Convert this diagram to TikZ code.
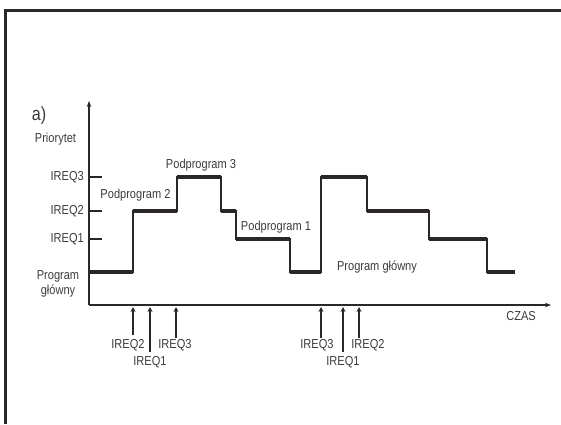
\documentclass[tikz,border=0pt]{standalone}
\usepackage{fontspec}
\setmainfont{Liberation Sans}
\newfontfamily\lblfont[FakeStretch=0.85]{Liberation Sans}
\definecolor{LineDark}{HTML}{2B2727}
\definecolor{TextGray}{HTML}{3E3A3A}
\usetikzlibrary{positioning, arrows.meta}

\begin{document}
\begin{tikzpicture}[x=1pt, y=-1pt,
  lbl/.style={font=\lblfont\fontsize{13}{15}\selectfont, text=TextGray, inner sep=0pt},
  ax/.style={draw=LineDark, line width=1.2pt, -{Stealth[length=6pt, width=4.5pt]}},
  req/.style={draw=LineDark, line width=1.5pt, -{Stealth[length=5pt, width=5pt]}},
  lvl/.style={draw=LineDark, line width=3.6pt},
  edgeln/.style={draw=LineDark, line width=1.7pt},
  tickln/.style={draw=LineDark, line width=1.5pt},
  frame/.style={draw=LineDark, line width=2.5pt},
]
  \useasboundingbox (0,0) rectangle (561,424);

  % frame (top and left edge only)
  \draw[frame] (5.5,424) -- (5.5,10.5) -- (561,10.5);

  % axes
  \coordinate (orig) at (89,305);
  \coordinate (ytop) at (89,101);
  \coordinate (xend) at (551,305);
  \draw[ax] (orig) -- (ytop);
  \draw[ax] (orig) -- (xend);
  \node[lbl, font=\lblfont\fontsize{19}{20}\selectfont] (apart) at (39,116) {a)};
  \node[lbl] (prio) at (55.5,139) {Priorytet};
  \node[lbl] (czas) at (521,316) {CZAS};

  % priority levels
  \foreach \nm/\yy in {3/177, 2/211, 1/239} {
    \node[lbl, anchor=east] (lv\nm) at (84,\yy) {IREQ\nm};
    \draw[tickln] (89,\yy) coordinate (tk\nm) -- ++(13,0);
  }
  \node[lbl, align=center] (prog) at (58,283.5) {Program\\główny};

  % priority over time
  \draw[edgeln] (89,272) -| (133,211) -| (177,177) -| (221,211) -| (236,239)
    -| (290,272) -| (321,177) -| (367,211) -| (429,239) -| (487,272) -- (515,272);
  \foreach \xa/\xb/\yy in {89/133/272, 133/177/211, 177/221/177, 221/236/211,
      236/290/239, 290/321/272, 321/367/177, 367/429/211, 429/487/239, 487/515/272}
    \draw[lvl] (\xa,\yy) -- (\xb,\yy);

  \node[lbl] (pp2) at (135.5,195) {Podprogram 2};
  \node[lbl] (pp3) at (201,165) {Podprogram 3};
  \node[lbl] (pp1) at (276,227) {Podprogram 1};
  \node[lbl] (pgl) at (377,267) {Program główny};

  % interrupt requests
  \foreach \nm/\xx/\ty/\lx/\ly/\txt in {ra/133/335/128/345/IREQ2, rb/150/352/150/362/IREQ1,
      rc/176/338/175/345/IREQ3, rd/321/338/317/345/IREQ3, re/343/352/343/362/IREQ1,
      rf/359/338/368/345/IREQ2} {
    \node[lbl] (\nm) at (\lx,\ly) {\txt};
    \coordinate (\nm tail) at (\xx,\ty);
    \coordinate (\nm head) at (\xx,307);
    \draw[req] (\nm tail) -- (\nm head);
  }
\end{tikzpicture}
\end{document}
